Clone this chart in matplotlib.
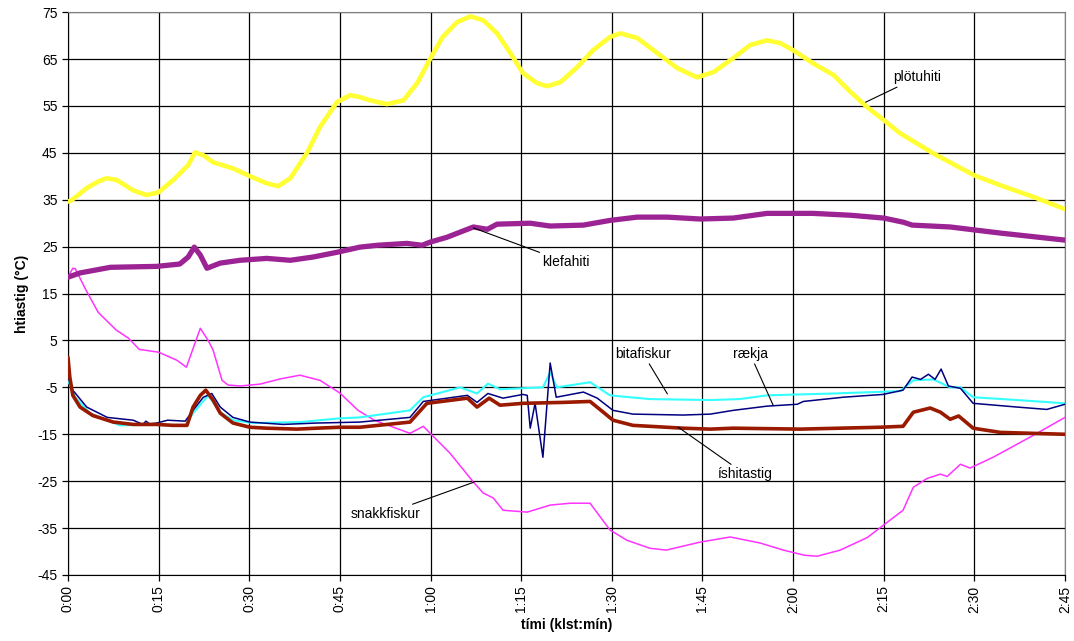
import matplotlib
matplotlib.use("Agg")
import matplotlib.pyplot as plt

plt.rcParams['font.family'] = ['Liberation Sans', 'DejaVu Sans']
plt.rcParams['axes.unicode_minus'] = False

# time in minutes, temperature in degC
plotu_t = [0, 0.6, 3.1, 5, 6.4, 8.1, 10.8, 13, 15, 17.4, 19.9, 21, 22.4, 24, 27.3, 29.8,
           32.9, 34.8, 36.8, 39.6, 41.7, 44.5, 46.7, 48.3, 50, 52.8, 55.5, 57.8, 60,
           62, 64.4, 66.6, 68.7, 71, 73.2, 75.3, 77.6, 79.3, 81.5, 84.3, 86.9, 89.7,
           91.4, 94.2, 97.5, 100.8, 104.1, 106.8, 110.1, 112.9, 115.7, 117.9, 120,
           123.3, 126.7, 129.5, 132.3, 135, 137.7, 143.2, 150, 154.3, 159.8, 165]
plotu_v = [34.6, 34.9, 37.5, 38.9, 39.6, 39.2, 37, 36, 36.6, 39.2, 42.4, 45.1, 44.5, 43,
           41.7, 40.2, 38.5, 37.9, 39.6, 45.1, 50.5, 55.8, 57.3, 56.9, 56.2, 55.4, 56.2,
           59.9, 65.2, 69.7, 72.9, 74.1, 73.3, 70.5, 66.3, 62, 59.9, 59.2, 60.1, 63.3,
           66.9, 69.7, 70.5, 69.5, 66.3, 63.1, 61.1, 62.2, 65.2, 68, 69, 68.4, 66.9,
           64.1, 61.6, 58, 54.7, 52, 49.2, 44.9, 40.2, 38.1, 35.6, 33]

klefi_t = [0, 2, 7, 14.7, 18.5, 19.9, 20.9, 21.9, 23, 25.2, 28.5, 32.9, 36.8, 40.6,
           44.5, 48.3, 51.2, 56.1, 58.6, 60, 62.7, 67.1, 69.4, 71, 76.5, 79.8, 85.3,
           89.7, 94.2, 99.2, 104.6, 110.1, 115.7, 123.3, 129.5, 135, 138.3, 139.7,
           146, 154.3, 165]
klefi_v = [18.5, 19.4, 20.6, 20.8, 21.3, 22.8, 24.9, 23.2, 20.4, 21.5, 22.1, 22.5, 22.1,
           22.8, 23.8, 24.9, 25.3, 25.7, 25.3, 26, 27, 29.2, 28.7, 29.8, 30, 29.4, 29.6,
           30.6, 31.3, 31.3, 30.9, 31.1, 32.1, 32.1, 31.7, 31.1, 30.2, 29.6, 29.2, 27.9,
           26.4]

snakk_t = [0, 0.8, 1.2, 3, 5, 8, 10, 11.8, 15, 18, 19.6, 20.9, 21.9, 23.2, 24, 25.5,
           26.5, 28.5, 31.8, 35.1, 38.4, 41.7, 45, 48, 50.7, 56.6, 58.8, 63.2, 67.1,
           68.7, 70.4, 72, 76, 79.8, 83.1, 86.4, 89.7, 92.5, 96.3, 99, 104.6, 109.6,
           114.6, 118.4, 121.9, 124, 127.8, 132.3, 138.2, 139.9, 142.2, 144.4, 145.5,
           147.7, 149.3, 153.1, 159.8, 165]
snakk_v = [18.5, 20.4, 20.3, 15.7, 11, 7.2, 5.5, 3.1, 2.5, 0.8, -0.7, 4, 7.6, 5, 3,
           -3.5, -4.5, -4.7, -4.3, -3.2, -2.4, -3.5, -6.2, -9.9, -12, -14.8, -13.3, -19,
           -25.2, -27.5, -28.6, -31.2, -31.6, -30.1, -29.7, -29.7, -35.4, -37.6, -39.3,
           -39.7, -38, -36.9, -38.2, -39.7, -40.8, -41, -39.7, -37, -31.2, -26.3, -24.4,
           -23.5, -24, -21.4, -22.2, -19.9, -15.2, -11.4]

bita_t = [0, 1.2, 3.6, 8.6, 14.7, 19.4, 20.7, 23.2, 25.2, 27.3, 30.6, 38.4, 45, 48.3,
          56.6, 58.8, 64.9, 67.7, 69.5, 71.5, 78.6, 79.8, 80.9, 86.4, 89.7, 96.3, 106.3,
          111.1, 115.7, 126.7, 137.7, 139.9, 143.2, 146, 147.7, 149.8, 157.1, 165]
bita_v = [-3.5, -7.1, -10.5, -13.1, -12.9, -13.1, -10.5, -6.7, -10.3, -12, -12.6, -12.4,
          -11.6, -11.4, -9.9, -7.1, -5, -6.3, -4.2, -5.4, -5, -1.8, -5, -3.9, -6.7, -7.5,
          -7.7, -7.5, -6.7, -6.3, -5.8, -3.5, -3.3, -5, -5, -7.1, -7.7, -8.4]

raekja_t = [0, 0.8, 3.1, 6.5, 10.8, 12.4, 12.9, 13.5, 14.7, 16.5, 19.4, 20.7, 22.4, 23.8,
            25.2, 27.3, 30.1, 35.6, 41.2, 48.3, 56.6, 58.8, 66.1, 67.7, 69.5, 72, 75.3,
            76, 76.5, 77.3, 78.6, 79.8, 80.8, 85.3, 87.6, 90.2, 93.5, 101.8, 106.3,
            110.1, 115.7, 120.7, 121.7, 128.3, 134.9, 138.2, 139.7, 141.1, 142.4, 143.5,
            144.5, 145.7, 147.7, 149.8, 157.1, 162, 165]
raekja_v = [-2.8, -5.6, -9.2, -11.4, -12, -12.9, -12.2, -12.8, -12.6, -12, -12.2, -9.9,
            -7.1, -6.3, -9.2, -11.4, -12.4, -12.9, -12.6, -12.4, -11.4, -8, -6.7, -8.2,
            -6.3, -7.3, -6.5, -6.7, -13.7, -8.4, -19.9, 0.2, -7.1, -6, -7.3, -9.9, -10.7,
            -10.9, -10.7, -9.9, -9, -8.6, -8, -7.1, -6.5, -5.6, -2.8, -3.3, -2.2, -3.3,
            -1.1, -4.7, -5.2, -8.4, -9.2, -9.7, -8.6]

ishiti_t = [0, 0.3, 0.8, 2, 4.1, 7.5, 10.8, 14.7, 17.4, 19.7, 20.7, 21.9, 22.8, 24,
            25.2, 27.3, 30.1, 32.9, 37.9, 41.2, 45, 48.3, 56.6, 59.4, 66.1, 67.7, 69.7,
            71.5, 75.3, 82, 86.4, 88.6, 90.2, 93.5, 101.8, 106.3, 110.1, 121.2, 134.4,
            138.2, 139.9, 142.7, 144.4, 146, 147.4, 149.8, 154.3, 165]
ishiti_v = [1.4, -2.8, -6.7, -9.2, -11, -12.4, -12.9, -12.9, -13.1, -13.1, -9.2, -6.7,
            -5.6, -7.7, -10.5, -12.6, -13.5, -13.7, -13.9, -13.7, -13.5, -13.5, -12.4,
            -8.4, -7.3, -9.2, -7.3, -8.8, -8.4, -8.2, -8, -10.3, -12, -13.1, -13.7, -13.9,
            -13.7, -13.9, -13.5, -13.3, -10.3, -9.4, -10.3, -11.8, -11.1, -13.7, -14.6,
            -15]

x_ticks = list(range(0, 166, 15))
x_labels = ["0:00", "0:15", "0:30", "0:45", "1:00", "1:15", "1:30", "1:45",
            "2:00", "2:15", "2:30", "2:45"]
y_ticks = list(range(-45, 76, 10))

fig = plt.figure(figsize=(10.74, 6.41), dpi=100)
ax = fig.add_axes([0.0633, 0.103, 0.9283, 0.878])

style = dict(solid_joinstyle='round', solid_capstyle='round')
ax.plot(snakk_t, snakk_v, color='#FF33FF', lw=1.1, zorder=3, **style)
ax.plot(bita_t, bita_v, color='#33FFFF', lw=1.5, zorder=4, **style)
ax.plot(raekja_t, raekja_v, color='#000080', lw=1.1, zorder=5, **style)
ax.plot(ishiti_t, ishiti_v, color='#9A1A00', lw=2.6, zorder=6, **style)
ax.plot(klefi_t, klefi_v, color='#9B2394', lw=3.8, zorder=7, **style)
ax.plot(plotu_t, plotu_v, color='#FFFF33', lw=3.3, zorder=8, **style)

ax.set_xlim(0, 165)
ax.set_ylim(-45, 75)
ax.set_xticks(x_ticks)
ax.set_xticklabels(x_labels, rotation=90)
ax.set_yticks(y_ticks)
ax.grid(True, color='black', lw=0.9)
ax.set_axisbelow(True)
ax.tick_params(direction='out', length=4, width=0.9, labelsize=10, colors='black')
for side in ['top', 'right']:
    ax.spines[side].set_color('#808080')
for side in ['left', 'bottom']:
    ax.spines[side].set_color('black')

ax.set_xlabel("tími (klst:mín)", fontsize=10, fontweight='bold', labelpad=4)
ax.set_ylabel("htiastig (°C)", fontsize=10, fontweight='bold', labelpad=6)

arrow = dict(arrowstyle='-', color='black', lw=0.8, shrinkA=0, shrinkB=0)
lbl = dict(fontsize=10, va='center', zorder=10)
ax.annotate("plötuhiti", xy=(132, 55.8), xytext=(136.6, 61.1), arrowprops=arrow, ha='left', **lbl)
ax.annotate("klefahiti", xy=(67.1, 29), xytext=(78.5, 21.7), arrowprops=arrow, ha='left', **lbl)
ax.annotate("bitafiskur", xy=(99.2, -6.4), xytext=(90.6, 2.1), arrowprops=arrow, ha='left', **lbl)
ax.annotate("rækja", xy=(116.7, -8.8), xytext=(110, 2.1), arrowprops=arrow, ha='left', **lbl)
ax.annotate("íshitastig", xy=(101, -13.5), xytext=(107.5, -23.5), arrowprops=arrow, ha='left', **lbl)
ax.annotate("snakkfiskur", xy=(67.2, -25.2), xytext=(58.3, -32), arrowprops=arrow, ha='right', **lbl)

fig.savefig("out.png", dpi=100)
